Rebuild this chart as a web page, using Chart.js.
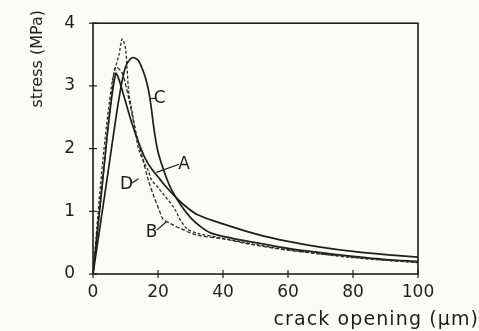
<!DOCTYPE html>
<html><head><meta charset="utf-8">
<script src="https://cdn.jsdelivr.net/npm/chart.js@4/dist/chart.umd.min.js"></script>
<style>html,body{margin:0;padding:0;background:#fbfbf8;}#wrap{width:479px;height:331px;}</style>
</head><body><div id="wrap"><canvas id="c" width="479" height="331"></canvas></div>
<script>
const xTicks = [0,20,40,60,80,100];
const yTicks = [0,1,2,3,4];
const xTitle = 'crack opening (µm)';
const yTitle = 'stress (MPa)';
const curveA = [[0,0],[3,1.5],[5,2.5],[7,3.2],[8,3.1],[10,2.75],[12,2.4],[14,2.1],[16,1.85],[18,1.68],[20,1.55],[22,1.42],[25,1.25],[28,1.1],[32,0.95],[40,0.8],[50,0.64],[60,0.52],[70,0.43],[80,0.36],[90,0.31],[100,0.27]];
const curveB = [[0,0],[3,1.5],[6,3.0],[7,3.3],[9,3.2],[11,2.8],[13,2.3],[15,1.9],[17,1.5],[19,1.2],[20.5,1.0],[21.5,0.88],[24,0.8],[28,0.7],[32,0.62],[40,0.56],[50,0.46],[60,0.38],[70,0.32],[80,0.27],[90,0.22],[100,0.19]];
const curveC = [[0,0],[4,1.4],[8,2.8],[10,3.3],[12,3.45],[14,3.4],[16,3.15],[17,2.95],[17.8,2.7],[18.8,2.3],[20,1.95],[22,1.62],[24,1.36],[27,1.1],[30,0.9],[33,0.76],[36,0.66],[40,0.6],[50,0.5],[60,0.41],[70,0.34],[80,0.28],[90,0.23],[100,0.2]];
const curveD = [[0,0],[3,1.8],[6,3.1],[8,3.5],[9,3.75],[10,3.6],[11,2.9],[12,2.6],[13,2.3],[14,2.0],[16,1.75],[17,1.65],[18,1.5],[20,1.38],[22,1.25],[25,1.05],[27,0.85],[29,0.72],[32,0.65],[40,0.57],[50,0.47],[60,0.39],[70,0.32],[80,0.26],[90,0.22],[100,0.18]];
const curveLabels = ['A','B','C','D'];
// label text anchor and leader line ends (data units)
const labelText = [[28,1.75],[18,0.66],[20.5,2.8],[10.3,1.42]];
const labelLeaderFrom = [[19.5,1.62],[22.5,0.83],[17.6,2.8],[14,1.52]];
const labelLeaderTo = [[26.5,1.75],[19.6,0.7],[19.4,2.8],[12,1.45]];

const FONT = '"DejaVu Sans", sans-serif';
const INK = '#1e1e1e';
const toXY = a => a.map(p => ({x:p[0], y:p[1]}));
const labelPlugin = {
  id:'labels',
  afterDatasetsDraw(chart){
    const {ctx, scales:{x,y}} = chart;
    ctx.save();
    ctx.strokeStyle=INK; ctx.lineWidth=1.2;
    ctx.fillStyle=INK; ctx.font='17px '+FONT;
    ctx.textBaseline='middle'; ctx.textAlign='center';
    curveLabels.forEach((t,i)=>{
      ctx.beginPath();
      ctx.moveTo(x.getPixelForValue(labelLeaderFrom[i][0]), y.getPixelForValue(labelLeaderFrom[i][1]));
      ctx.lineTo(x.getPixelForValue(labelLeaderTo[i][0]), y.getPixelForValue(labelLeaderTo[i][1]));
      ctx.stroke();
      ctx.fillText(t, x.getPixelForValue(labelText[i][0]), y.getPixelForValue(labelText[i][1]));
    });
    ctx.restore();
  }
};
const frame = {
  id:'frame',
  afterDraw(chart){
    const {ctx, chartArea:a} = chart;
    ctx.save(); ctx.strokeStyle=INK; ctx.lineWidth=1.6;
    ctx.strokeRect(a.left, a.top, a.right-a.left, a.bottom-a.top);
    ctx.lineWidth=1.2;
    const sx = chart.scales.x, sy = chart.scales.y;
    xTicks.forEach(v=>{const px=sx.getPixelForValue(v); ctx.beginPath(); ctx.moveTo(px,a.bottom-4); ctx.lineTo(px,a.bottom+4); ctx.stroke();});
    yTicks.forEach(v=>{const py=sy.getPixelForValue(v); ctx.beginPath(); ctx.moveTo(a.left-4,py); ctx.lineTo(a.left+4,py); ctx.stroke();});
    ctx.fillStyle=INK;
    ctx.font='19px '+FONT;
    if ('letterSpacing' in ctx) ctx.letterSpacing='1.1px';
    ctx.textAlign='right'; ctx.textBaseline='alphabetic';
    ctx.fillText(xTitle, 479, 325);
    if ('letterSpacing' in ctx) ctx.letterSpacing='0px';
    ctx.save();
    ctx.translate(42, 10); ctx.rotate(-Math.PI/2);
    ctx.font='16px '+FONT; ctx.textAlign='right';
    ctx.fillText(yTitle, 0, 0);
    ctx.restore();
    ctx.restore();
  }
};
new Chart(document.getElementById('c'), {
  type:'line',
  data:{datasets:[
    {label:'A', data:toXY(curveA), borderColor:INK, borderWidth:1.7, pointRadius:0, tension:0.3},
    {label:'B', data:toXY(curveB), borderColor:'#2a2a2a', borderWidth:1.3, borderDash:[4,2], pointRadius:0, tension:0.3},
    {label:'C', data:toXY(curveC), borderColor:INK, borderWidth:1.7, pointRadius:0, tension:0.3},
    {label:'D', data:toXY(curveD), borderColor:'#2a2a2a', borderWidth:1.3, borderDash:[3,2], pointRadius:0, tension:0.3}
  ]},
  options:{
    responsive:false, animation:false, devicePixelRatio:1,
    layout:{padding:{top:20,right:61,left:0,bottom:0}},
    plugins:{legend:{display:false}, tooltip:{enabled:false}},
    scales:{
      x:{type:'linear', min:0, max:100,
        afterBuildTicks:s=>{s.ticks=xTicks.map(v=>({value:v}));},
        afterFit:s=>{s.height=57;},
        grid:{drawOnChartArea:false, drawTicks:true, color:'rgba(0,0,0,0)', tickLength:5},
        border:{display:false},
        ticks:{color:INK, font:{size:17, family:FONT}, padding:3, maxRotation:0},
        title:{display:false}
      },
      y:{type:'linear', min:0, max:4,
        afterBuildTicks:s=>{s.ticks=yTicks.map(v=>({value:v}));},
        afterFit:s=>{s.width=93;},
        grid:{drawOnChartArea:false, drawTicks:true, color:'rgba(0,0,0,0)', tickLength:5},
        border:{display:false},
        ticks:{color:INK, font:{size:17, family:FONT}, padding:13},
        title:{display:false}
      }
    }
  },
  plugins:[labelPlugin, frame]
});
</script></body></html>
